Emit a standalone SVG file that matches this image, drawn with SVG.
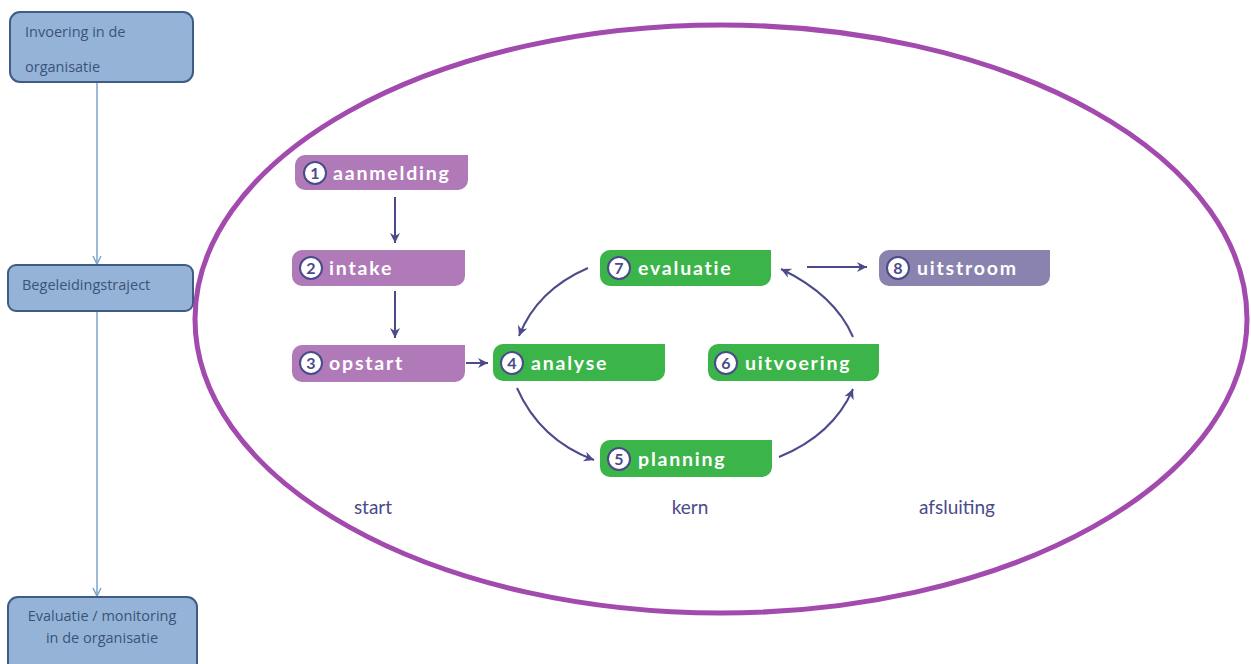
<svg xmlns="http://www.w3.org/2000/svg" width="1251" height="664" viewBox="0 0 1251 664">
<defs>
<style>
.lbox{fill:#95B3D7;stroke:#3E5C85;stroke-width:2}
.ltxt{font-family:"Open Sans","Liberation Sans",sans-serif;font-size:14.5px;fill:#3A5478}
.vline{stroke:#7FA3CC;stroke-width:1.5;fill:none}
.tab-p{fill:#B07AB8}
.tab-g{fill:#3BB44A}
.tab-v{fill:#8A82AF}
.num{fill:#ffffff;stroke:#4B4A8A;stroke-width:2}
.numt{font-family:"Lato","Liberation Sans",sans-serif;font-weight:bold;font-size:16px;fill:#4B4A8A;text-anchor:middle}
.tt{font-family:"Lato","Noto Sans","Liberation Sans",sans-serif;font-weight:bold;font-size:19.5px;fill:#ffffff;letter-spacing:1.8px}
.arr{stroke:#4B4A8A;stroke-width:2;fill:none}
.ph{font-family:"Lato","Liberation Sans",sans-serif;font-size:19px;fill:#4B4A8A;text-anchor:middle}
</style>
<marker id="ah2" viewBox="0 0 10 10" refX="9" refY="5" markerWidth="10" markerHeight="10" orient="auto" markerUnits="userSpaceOnUse">
<path d="M1,1 L9,5 L1,9" fill="none" stroke="#7FA3CC" stroke-width="1.5"/>
</marker>
<marker id="ah3" viewBox="0 0 12 12" refX="11" refY="6" markerWidth="12" markerHeight="12" orient="auto" markerUnits="userSpaceOnUse">
<path d="M1,1 L11,6 L1,11 L4,6 Z" fill="#4B4A8A"/>
</marker>
</defs>
<rect width="1251" height="664" fill="#ffffff"/>
<g id="connectors">
<line class="vline" x1="97" y1="83" x2="97" y2="264" marker-end="url(#ah2)"/>
<line class="vline" x1="97" y1="312" x2="97" y2="596" marker-end="url(#ah2)"/>
<line class="arr" x1="395" y1="197" x2="395" y2="243" marker-end="url(#ah3)"/>
<line class="arr" x1="395" y1="291" x2="395" y2="338" marker-end="url(#ah3)"/>
<line class="arr" x1="466" y1="363" x2="488" y2="363" marker-end="url(#ah3)"/>
<path class="arr" d="M588,268 Q537,290 519,336" marker-end="url(#ah3)"/>
<path class="arr" d="M517,388 Q540,440 594,460" marker-end="url(#ah3)"/>
<path class="arr" d="M779,457 Q833,435 853,389" marker-end="url(#ah3)"/>
<path class="arr" d="M853,337 Q835,295 781,269" marker-end="url(#ah3)"/>
<line class="arr" x1="807" y1="267" x2="867" y2="267" marker-end="url(#ah3)"/>
</g>
<ellipse id="ellipse" cx="721" cy="319" rx="526" ry="294" fill="none" stroke="#A24AAE" stroke-width="5"/>
<g id="box-invoering">
<rect class="lbox" x="10" y="12" width="183" height="70" rx="10"/>
<text class="ltxt" x="25" y="37">Invoering in de</text>
<text class="ltxt" x="25" y="72">organisatie</text>
</g>
<g id="box-begeleiding">
<rect class="lbox" x="8" y="265" width="185" height="46" rx="8"/>
<text class="ltxt" x="22" y="290">Begeleidingstraject</text>
</g>
<g id="box-evaluatie-org">
<rect class="lbox" x="8" y="597" width="189" height="80" rx="10"/>
<text class="ltxt" x="102" y="621" text-anchor="middle">Evaluatie / monitoring</text>
<text class="ltxt" x="102" y="643" text-anchor="middle">in de organisatie</text>
</g>
<g id="n1">
<path class="tab-p" d="M305,155 H468 V180 A10,10 0 0 1 458,190 H305 A10,10 0 0 1 295,180 V165 A10,10 0 0 1 305,155 Z"/>
<circle class="num" cx="315" cy="173" r="11"/>
<text class="numt" x="315" y="178.5">1</text>
<text class="tt" x="333" y="180">aanmelding</text>
</g>
<g id="n2">
<path class="tab-p" d="M302,250 H465 V276 A10,10 0 0 1 455,286 H302 A10,10 0 0 1 292,276 V260 A10,10 0 0 1 302,250 Z"/>
<circle class="num" cx="311" cy="268" r="11"/>
<text class="numt" x="311" y="273.5">2</text>
<text class="tt" x="329" y="275">intake</text>
</g>
<g id="n3">
<path class="tab-p" d="M302,345 H465 V372 A10,10 0 0 1 455,382 H302 A10,10 0 0 1 292,372 V355 A10,10 0 0 1 302,345 Z"/>
<circle class="num" cx="311" cy="363" r="11"/>
<text class="numt" x="311" y="368.5">3</text>
<text class="tt" x="329" y="370">opstart</text>
</g>
<g id="n4">
<path class="tab-g" d="M503,344 H665 V371 A10,10 0 0 1 655,381 H503 A10,10 0 0 1 493,371 V354 A10,10 0 0 1 503,344 Z"/>
<circle class="num" cx="512" cy="363" r="11"/>
<text class="numt" x="512" y="368.5">4</text>
<text class="tt" x="531" y="370">analyse</text>
</g>
<g id="n5">
<path class="tab-g" d="M610,440 H772 V467 A10,10 0 0 1 762,477 H610 A10,10 0 0 1 600,467 V450 A10,10 0 0 1 610,440 Z"/>
<circle class="num" cx="619" cy="459" r="11"/>
<text class="numt" x="619" y="464.5">5</text>
<text class="tt" x="638" y="466">planning</text>
</g>
<g id="n6">
<path class="tab-g" d="M718,344 H879 V371 A10,10 0 0 1 869,381 H718 A10,10 0 0 1 708,371 V354 A10,10 0 0 1 718,344 Z"/>
<circle class="num" cx="726" cy="363" r="11"/>
<text class="numt" x="726" y="368.5">6</text>
<text class="tt" x="745" y="370">uitvoering</text>
</g>
<g id="n7">
<path class="tab-g" d="M610,250 H771 V276 A10,10 0 0 1 761,286 H610 A10,10 0 0 1 600,276 V260 A10,10 0 0 1 610,250 Z"/>
<circle class="num" cx="619" cy="268" r="11"/>
<text class="numt" x="619" y="273.5">7</text>
<text class="tt" x="638" y="275">evaluatie</text>
</g>
<g id="n8">
<path class="tab-v" d="M889,250 H1050 V276 A10,10 0 0 1 1040,286 H889 A10,10 0 0 1 879,276 V260 A10,10 0 0 1 889,250 Z"/>
<circle class="num" cx="898" cy="268" r="11"/>
<text class="numt" x="898" y="273.5">8</text>
<text class="tt" x="917" y="275">uitstroom</text>
</g>
<g id="phases">
<text class="ph" x="373" y="514">start</text>
<text class="ph" x="690" y="514">kern</text>
<text class="ph" x="957" y="514">afsluiting</text>
</g>
</svg>
